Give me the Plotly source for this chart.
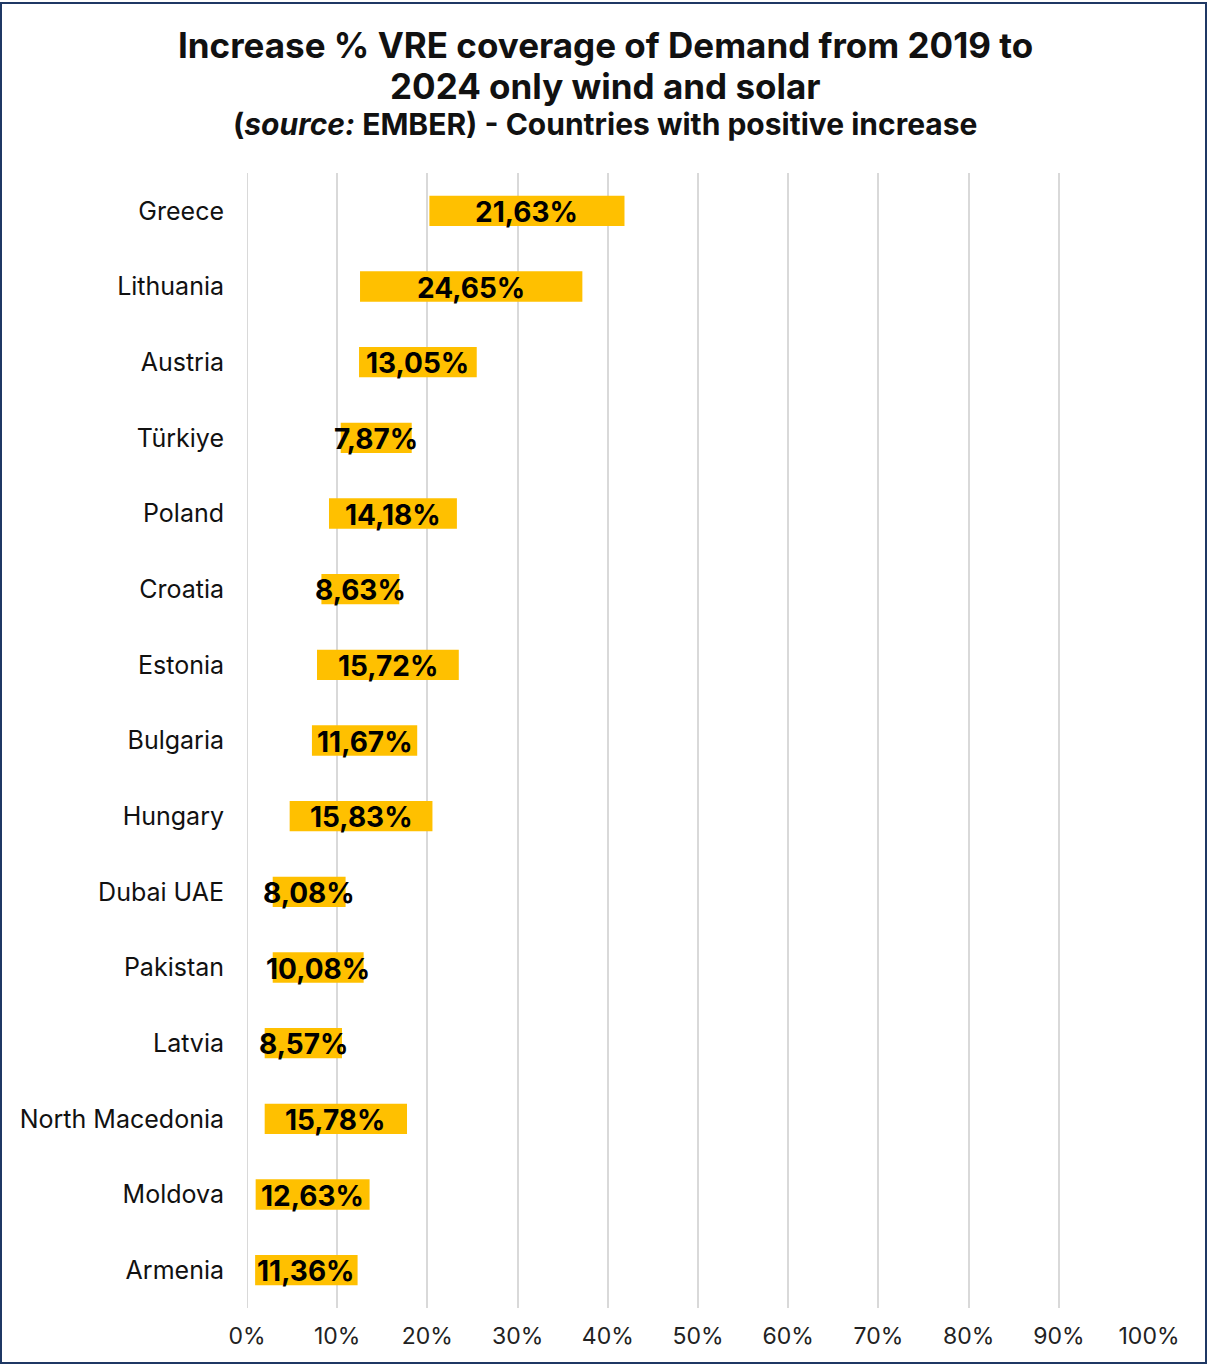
import plotly.graph_objects as go

# Countries with a positive increase of wind+solar coverage of demand, 2019 -> 2024
countries = [
    "Greece", "Lithuania", "Austria", "Türkiye", "Poland", "Croatia", "Estonia",
    "Bulgaria", "Hungary", "Dubai UAE", "Pakistan", "Latvia", "North Macedonia",
    "Moldova", "Armenia",
]
# 2019 share of demand covered by wind and solar (%)
share_2019 = [20.22, 12.53, 12.42, 10.39, 9.09, 8.25, 7.76, 7.20, 4.73, 2.85,
              2.85, 1.96, 1.96, 0.96, 0.90]
# increase in share between 2019 and 2024 (percentage points)
increase = [21.63, 24.65, 13.05, 7.87, 14.18, 8.63, 15.72, 11.67, 15.83, 8.08,
            10.08, 8.57, 15.78, 12.63, 11.36]

x_ticks = list(range(0, 101, 10))
x_tick_text = [f"{t}%" for t in x_ticks]

FONT = "Inter, Roboto, 'DejaVu Sans', sans-serif"
BAR_COLOR = "#FFC000"

W, H = 1208, 1365
ML, MR, MT, MB = 247, 59, 173, 57
PW, PH = W - ML - MR, H - MT - MB

labels = [f"{v:.2f}".replace(".", ",") + "%" for v in increase]
label_pos = [b + v / 2 for b, v in zip(share_2019, increase)]

fig = go.Figure()

fig.add_trace(go.Bar(
    y=countries,
    x=increase,
    base=share_2019,
    orientation="h",
    width=0.4,
    marker=dict(color=BAR_COLOR, line=dict(width=0)),
    hovertemplate="%{y}: +%{x:.2f}%<extra></extra>",
    showlegend=False,
))


def px_x(xpx):
    return (xpx - ML) / PW


def px_y(ypx):
    return (H - MB - ypx) / PH


annotations = []

# value labels centred on each bar
for c, xpos, lab in zip(countries, label_pos, labels):
    annotations.append(dict(
        text=f"<b>{lab}</b>",
        x=xpos, y=c, xref="x", yref="y",
        xanchor="center", yanchor="middle",
        yshift=-1,
        showarrow=False,
        font=dict(family=FONT, size=28, color="#000000"),
    ))

title_lines = [
    ("Increase % VRE coverage of Demand from 2019 to", 45, 35),
    ("2024 only wind and solar", 86, 35),
    ("(<i>source:</i> EMBER) - Countries with positive increase", 124, 30),
]
for text, ypx, size in title_lines:
    annotations.append(dict(
        text=f"<b>{text}</b>",
        x=px_x(605), y=px_y(ypx),
        xref="paper", yref="paper",
        xanchor="center", yanchor="middle",
        showarrow=False,
        font=dict(family=FONT, size=size, color="#111111"),
    ))

fig.update_layout(
    width=W,
    height=H,
    margin=dict(l=ML, r=MR, t=MT, b=MB),
    paper_bgcolor="white",
    plot_bgcolor="white",
    font=dict(family=FONT, color="#222222"),
    annotations=annotations,
    shapes=[dict(
        type="rect", xref="paper", yref="paper",
        x0=px_x(1), x1=px_x(W - 2),
        y0=px_y(H - 2), y1=px_y(3),
        line=dict(color="#1F3864", width=2),
        fillcolor="rgba(0,0,0,0)",
        layer="below",
    )],
)

fig.update_xaxes(
    range=[0, 100],
    tickvals=x_ticks,
    ticktext=x_tick_text,
    showgrid=True,
    gridcolor="#D9D9D9",
    gridwidth=2,
    zeroline=False,
    showline=False,
    ticks="",
    tickfont=dict(family=FONT, size=23, color="#222222"),
    ticklabelstandoff=12,
    fixedrange=True,
)

fig.update_yaxes(
    categoryorder="array",
    categoryarray=countries,
    range=[len(countries) - 0.5, -0.5],
    showgrid=False,
    zeroline=False,
    showline=False,
    ticks="",
    tickfont=dict(family=FONT, size=25, color="#111111"),
    ticklabelstandoff=22,
    fixedrange=True,
)

# left gridline at 0% spanning the plot height
fig.add_vline(x=0, line=dict(color="#D9D9D9", width=2), layer="below")

fig.write_html("out.html")
